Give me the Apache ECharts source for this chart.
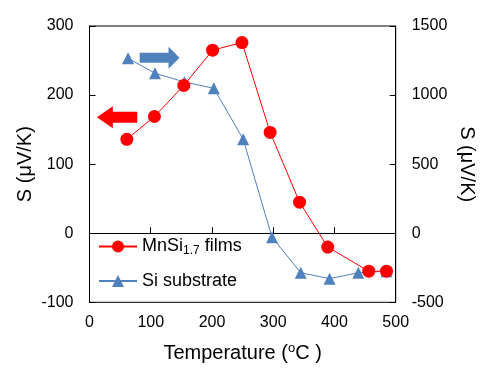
<!DOCTYPE html>
<html>
<head>
<meta charset="utf-8">
<script src="https://cdn.jsdelivr.net/npm/echarts@6/dist/echarts.min.js"></script>
<style>html,body{margin:0;padding:0;background:#fff}#c{width:489px;height:373px}</style>
</head>
<body>
<div id="c"></div>
<script>
// Temperature (°C) and Seebeck coefficient values
const tempFilm = [61, 106, 154, 201, 249, 295, 343, 389, 456, 485];
const sFilm = [136, 169, 214, 265, 276, 146, 45, -20, -55, -55];       // left axis, µV/K
const tempSub = [63, 107, 155, 203, 251, 298, 345, 392, 439, 485];
const sSub = [1266, 1158, 1095, 1049, 680, -29, -286, -329, -286, -276]; // right axis, µV/K
const seriesNames = ['MnSi1.7 films', 'Si substrate'];
const xTicks = [0, 100, 200, 300, 400, 500];
const yLeftTicks = [-100, 0, 100, 200, 300];
const yRightTicks = [-500, 0, 500, 1000, 1500];

const FONT = '"Liberation Sans", Arial, sans-serif';
const RED = '#FF0000', BLUE = '#4F81BD';

const chart = echarts.init(document.getElementById('c'), null, {renderer: 'canvas'});
const pairs = (xs, ys) => xs.map((x, i) => [x, ys[i]]);
const axisCommon = {
  axisLine: {show: true, lineStyle: {color: '#000', width: 1}},
  axisTick: {show: true, inside: true, length: 6, lineStyle: {color: '#000'}},
  splitLine: {show: false},
  axisLabel: {color: '#000', fontSize: 16, fontFamily: FONT, margin: 16, formatter: v => String(v)},
  nameTextStyle: {color: '#000', fontSize: 20, fontFamily: FONT},
  nameMoveOverlap: false
};
chart.setOption({
  animation: false,
  grid: {left: 89.5, right: 93.3, top: 26, bottom: 70.7, show: true, borderColor: '#000', borderWidth: 1, containLabel: false},
  xAxis: Object.assign({}, axisCommon, {
    type: 'value', min: xTicks[0], max: xTicks[xTicks.length - 1], interval: 100,
    axisLabel: Object.assign({}, axisCommon.axisLabel, {margin: 12}),
    name: '{a|Temperature (}{s|o}{a|C )}', nameLocation: 'middle', nameGap: 40,
    nameTextStyle: {color: '#000', fontFamily: FONT, rich: {
      a: {fontSize: 20, fontFamily: FONT, color: '#000'},
      s: {fontSize: 13, fontFamily: FONT, color: '#000', verticalAlign: 'top', lineHeight: 22, padding: [0, 0, 8, 0]}
    }}
  }),
  yAxis: [
    Object.assign({}, axisCommon, {
      type: 'value', position: 'left', min: yLeftTicks[0], max: yLeftTicks[yLeftTicks.length - 1], interval: 100,
      name: 'S (μV/K)', nameLocation: 'middle', nameGap: 54, nameRotate: 90
    }),
    Object.assign({}, axisCommon, {
      type: 'value', position: 'right', min: yRightTicks[0], max: yRightTicks[yRightTicks.length - 1], interval: 500,
      name: 'S (μV/K)', nameLocation: 'middle', nameGap: 61, nameRotate: -90
    })
  ],
  legend: {
    orient: 'vertical', left: 98, top: 237, padding: 0, itemWidth: 38, itemHeight: 15, itemGap: 15,
    data: seriesNames,
    formatter: function (n) {
      if (n === seriesNames[0]) return '{a|MnSi}{b|1.7}{a| films}';
      return '{a|' + n + '}';
    },
    textStyle: {color: '#000', fontFamily: FONT, rich: {
      a: {fontSize: 18, fontFamily: FONT, color: '#000', lineHeight: 21},
      b: {fontSize: 12, fontFamily: FONT, color: '#000', verticalAlign: 'bottom', lineHeight: 12, padding: [8, 0, 0, 0]}
    }}
  },
  series: [
    {
      name: seriesNames[0], type: 'line', yAxisIndex: 0, data: pairs(tempFilm, sFilm),
      symbol: 'circle', symbolSize: 13, z: 3,
      lineStyle: {color: RED, width: 1}, itemStyle: {color: RED}
    },
    {
      name: seriesNames[1], type: 'line', yAxisIndex: 1, data: pairs(tempSub, sSub),
      symbol: 'triangle', symbolSize: [12, 12], z: 2,
      lineStyle: {color: BLUE, width: 1}, itemStyle: {color: BLUE}
    }
  ]
});

// Annotation arrows (pointing to each series' axis), positioned in data space
function arrow(xTail, xTip, yVal, yAxisIndex, color, bodyH, headH, headLen) {
  const a = chart.convertToPixel({xAxisIndex: 0, yAxisIndex: yAxisIndex}, [xTail, yVal]);
  const b = chart.convertToPixel({xAxisIndex: 0, yAxisIndex: yAxisIndex}, [xTip, yVal]);
  const dir = Math.sign(b[0] - a[0]);
  const y = a[1];
  const neck = b[0] - dir * headLen;
  return {
    type: 'polygon', z: 10,
    shape: {points: [
      [a[0], y - bodyH / 2], [neck, y - bodyH / 2], [neck, y - headH / 2], [b[0], y],
      [neck, y + headH / 2], [neck, y + bodyH / 2], [a[0], y + bodyH / 2]
    ]},
    style: {fill: color}
  };
}
chart.setOption({graphic: [
  arrow(82, 147, 1270, 1, BLUE, 10, 22, 11),
  arrow(78, 12, 168, 0, RED, 11, 22, 16)
]});
</script>
</body>
</html>
